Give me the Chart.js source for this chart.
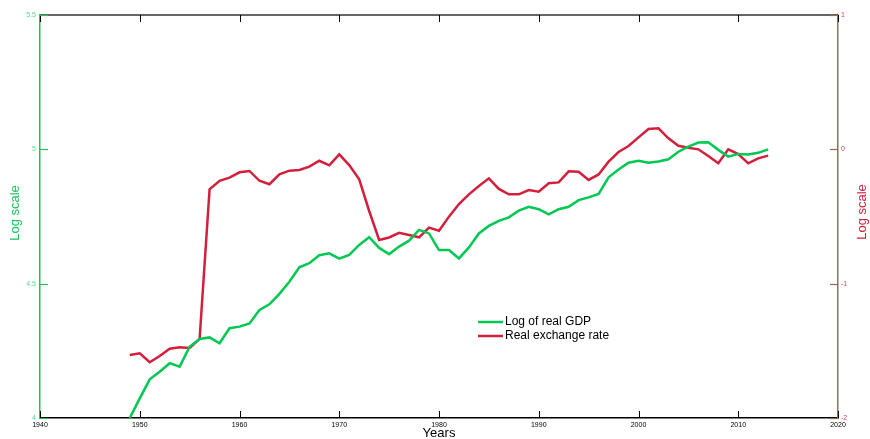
<!DOCTYPE html>
<html>
<head>
<meta charset="utf-8">
<script src="https://cdn.jsdelivr.net/npm/chart.js@4/dist/chart.umd.min.js"></script>
<style>
html,body{margin:0;padding:0;background:#fff;}
#wrap{width:870px;height:439px;position:relative;}
</style>
</head>
<body>
<div id="wrap"><canvas id="c" width="870" height="439"></canvas></div>
<script>
const years = [1949,1950,1951,1952,1953,1954,1955,1956,1957,1958,1959,1960,1961,1962,1963,1964,1965,1966,1967,1968,1969,1970,1971,1972,1973,1974,1975,1976,1977,1978,1979,1980,1981,1982,1983,1984,1985,1986,1987,1988,1989,1990,1991,1992,1993,1994,1995,1996,1997,1998,1999,2000,2001,2002,2003,2004,2005,2006,2007,2008,2009,2010,2011,2012,2013];
const logRealGDP = [4.000,4.073,4.144,4.172,4.204,4.191,4.265,4.294,4.300,4.278,4.334,4.340,4.352,4.402,4.423,4.462,4.507,4.561,4.576,4.606,4.613,4.593,4.607,4.644,4.673,4.633,4.610,4.638,4.660,4.700,4.687,4.625,4.625,4.594,4.635,4.687,4.715,4.734,4.747,4.772,4.786,4.777,4.758,4.777,4.786,4.811,4.821,4.834,4.896,4.925,4.950,4.957,4.950,4.955,4.963,4.991,5.010,5.025,5.026,4.998,4.973,4.983,4.981,4.987,5.000];
const realExchangeRate = [-1.531,-1.518,-1.585,-1.539,-1.484,-1.474,-1.479,-1.412,-0.298,-0.234,-0.211,-0.171,-0.161,-0.234,-0.260,-0.186,-0.159,-0.154,-0.129,-0.085,-0.119,-0.037,-0.117,-0.223,-0.459,-0.675,-0.656,-0.621,-0.638,-0.655,-0.583,-0.606,-0.501,-0.407,-0.335,-0.273,-0.216,-0.295,-0.335,-0.335,-0.303,-0.315,-0.253,-0.246,-0.164,-0.167,-0.228,-0.187,-0.092,-0.020,0.025,0.089,0.151,0.156,0.082,0.027,0.012,0.000,-0.050,-0.104,0.000,-0.035,-0.104,-0.067,-0.047];
const xTickYears = [1940,1950,1960,1970,1980,1990,2000,2010,2020];
const leftTicks = [4,4.5,5,5.5];
const rightTicks = [-2,-1,0,1];
const seriesNames = ['Log of real GDP','Real exchange rate'];
const axisTitles = {x:'Years', left:'Log scale', right:'Log scale'};

const GREEN = '#00c853';
const RED = '#d2203c';
const FONT = '"Liberation Sans", Arial, sans-serif';

const toPts = (vals) => vals.map((v,i)=>({x:years[i], y:v}));

const framePlugin = {
  id:'frame',
  afterDraw(chart){
    const ctx = chart.ctx, a = chart.chartArea;
    const xs = chart.scales.x, yl = chart.scales.y, yr = chart.scales.y2;
    ctx.save();
    // top border
    ctx.strokeStyle = '#333'; ctx.lineWidth = 1.5;
    ctx.beginPath(); ctx.moveTo(a.left, a.top); ctx.lineTo(a.right, a.top); ctx.stroke();
    // x ticks inward (bottom & top)
    ctx.strokeStyle = '#000'; ctx.lineWidth = 1;
    xTickYears.forEach(v=>{
      const px = Math.round(xs.getPixelForValue(v))+0.5;
      ctx.beginPath(); ctx.moveTo(px, a.bottom); ctx.lineTo(px, a.bottom-7); ctx.stroke();
      ctx.beginPath(); ctx.moveTo(px, a.top); ctx.lineTo(px, a.top+7); ctx.stroke();
    });
    // left ticks
    ctx.strokeStyle = '#1fc25c'; ctx.lineWidth = 1.2;
    leftTicks.forEach(v=>{
      const py = Math.round(yl.getPixelForValue(v))+0.5;
      ctx.beginPath(); ctx.moveTo(a.left, py); ctx.lineTo(a.left+8, py); ctx.stroke();
    });
    // right ticks
    ctx.strokeStyle = '#9a6650';
    rightTicks.forEach(v=>{
      const py = Math.round(yr.getPixelForValue(v))+0.5;
      ctx.beginPath(); ctx.moveTo(a.right, py); ctx.lineTo(a.right-8, py); ctx.stroke();
    });
    ctx.restore();

    // axis titles
    ctx.save();
    ctx.font = '13px ' + FONT;
    ctx.textAlign = 'center'; ctx.textBaseline = 'middle';
    ctx.fillStyle = '#000';
    ctx.fillText(axisTitles.x, (a.left+a.right)/2, 433);
    ctx.restore();

    ctx.save();
    ctx.font = '13px ' + FONT;
    ctx.textAlign = 'center'; ctx.textBaseline = 'middle';
    ctx.fillStyle = '#1fc25c';
    ctx.translate(15, 213);
    ctx.rotate(-Math.PI/2);
    ctx.fillText(axisTitles.left, 0, 0);
    ctx.restore();

    ctx.save();
    ctx.font = '13px ' + FONT;
    ctx.textAlign = 'center'; ctx.textBaseline = 'middle';
    ctx.fillStyle = RED;
    ctx.translate(862, 212);
    ctx.rotate(-Math.PI/2);
    ctx.fillText(axisTitles.right, 0, 0);
    ctx.restore();

    // legend
    ctx.save();
    ctx.font = '12px ' + FONT;
    ctx.textAlign = 'left'; ctx.textBaseline = 'middle';
    chart.data.datasets.forEach((ds,i)=>{
      const y = 322 + i*14;
      ctx.strokeStyle = ds.borderColor; ctx.lineWidth = 2.5;
      ctx.beginPath(); ctx.moveTo(478, y); ctx.lineTo(503, y); ctx.stroke();
      ctx.fillStyle = '#000';
      ctx.fillText(ds.label, 505, y);
    });
    ctx.restore();
  }
};

new Chart(document.getElementById('c'), {
  type:'line',
  data:{
    datasets:[
      {label:seriesNames[0], data:toPts(logRealGDP), yAxisID:'y', borderColor:GREEN, borderWidth:2.5, pointRadius:0, tension:0, fill:false},
      {label:seriesNames[1], data:toPts(realExchangeRate), yAxisID:'y2', borderColor:RED, borderWidth:2.5, pointRadius:0, tension:0, fill:false}
    ]
  },
  options:{
    responsive:false,
    animation:false,
    layout:{padding:{top:15,left:0,right:0,bottom:0}},
    plugins:{legend:{display:false}, tooltip:{enabled:false}},
    scales:{
      x:{
        type:'linear', position:'bottom', min:1940, max:2020,
        afterBuildTicks(s){ s.ticks = xTickYears.map(v=>({value:v})); },
        afterFit(s){ s.height = 21; },
        grid:{display:true, drawOnChartArea:false, drawTicks:false},
        border:{display:true, color:'#000', width:1.5},
        ticks:{color:'#000', font:{family:FONT, size:7}, padding:3, maxRotation:0, autoSkip:false, callback:v=>String(v)},
        title:{display:false}
      },
      y:{
        type:'linear', position:'left', min:4, max:5.5,
        afterBuildTicks(s){ s.ticks = leftTicks.map(v=>({value:v})); },
        afterFit(s){ s.width = 40; },
        grid:{display:true, drawOnChartArea:false, drawTicks:false},
        border:{display:true, color:'#1fc25c', width:1.5},
        ticks:{color:'#5fd68c', font:{family:FONT, size:7}, padding:4, callback:v=>String(v)},
        title:{display:false}
      },
      y2:{
        type:'linear', position:'right', min:-2, max:1,
        afterBuildTicks(s){ s.ticks = rightTicks.map(v=>({value:v})); },
        afterFit(s){ s.width = 32; },
        grid:{display:true, drawOnChartArea:false, drawTicks:false},
        border:{display:true, color:'#7e7a5c', width:1.5},
        ticks:{color:'#e0405a', font:{family:FONT, size:7}, padding:3, callback:v=>String(v)},
        title:{display:false}
      }
    }
  },
  plugins:[framePlugin]
});
</script>
</body>
</html>
